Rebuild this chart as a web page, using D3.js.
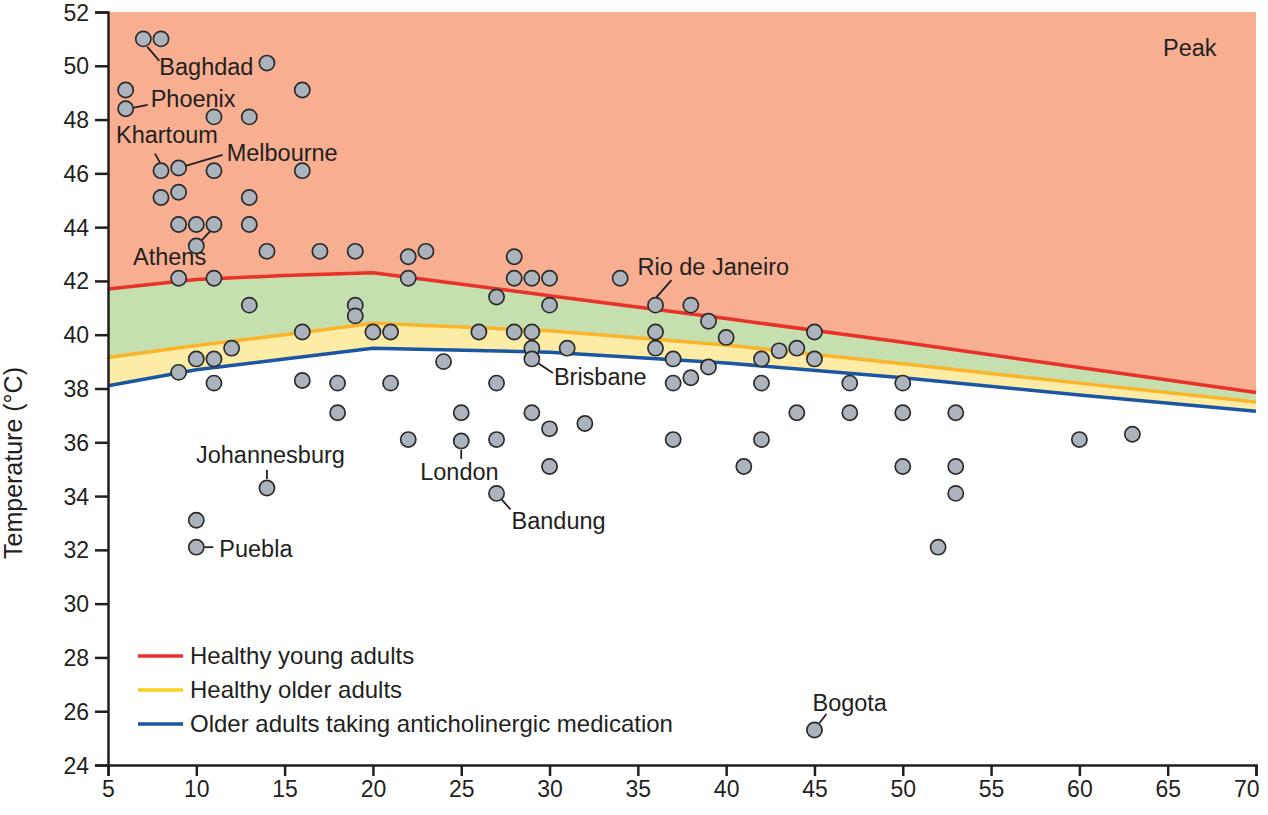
<!DOCTYPE html>
<html><head><meta charset="utf-8">
<script src="https://cdn.jsdelivr.net/npm/d3@7/dist/d3.min.js"></script>
<style>
html,body{margin:0;padding:0;background:#fff;}
svg text{font-family:"Liberation Sans",Arial,sans-serif;fill:#231f20;}
</style></head>
<body><svg id="chart" width="1268" height="815"></svg>
<script>
// ---- data ----
const xTicks = [5,10,15,20,25,30,35,40,45,50,55,60,65,70];
const yTicks = [24,26,28,30,32,34,36,38,40,42,44,46,48,50,52];
const curveX = [5,10,15,20,30,40,50,60,70];
const youngLimit = [41.7,42.05,42.2,42.3,41.45,40.6,39.72,38.78,37.85];
const olderLimit = [39.15,39.6,40.0,40.43,40.15,39.62,38.92,38.2,37.5];
const anticholLimit = [38.1,38.7,39.1,39.5,39.35,38.95,38.4,37.76,37.15];
const cityX = [7,8,14,6,6,16,11,13,8,9,11,16,8,9,13,9,10,11,13,10,14,17,19,22,23,9,11,22,28,28,29,30,34,13,19,19,27,30,36,38,39,40,45,16,20,21,26,28,29,36,12,29,31,36,43,44,10,11,29,37,42,45,24,39,9,16,11,18,21,27,37,38,42,47,50,18,25,29,44,47,50,53,32,30,22,25,27,37,42,60,63,30,41,50,53,14,27,53,10,10,52,45];
const cityY = [51,51,50.1,49.1,48.4,49.1,48.1,48.1,46.1,46.2,46.1,46.1,45.1,45.3,45.1,44.1,44.1,44.1,44.1,43.3,43.1,43.1,43.1,42.9,43.1,42.1,42.1,42.1,42.9,42.1,42.1,42.1,42.1,41.1,41.1,40.7,41.4,41.1,41.1,41.1,40.5,39.9,40.1,40.1,40.1,40.1,40.1,40.1,40.1,40.1,39.5,39.5,39.5,39.5,39.4,39.5,39.1,39.1,39.1,39.1,39.1,39.1,39.0,38.8,38.6,38.3,38.2,38.2,38.2,38.2,38.2,38.4,38.2,38.2,38.2,37.1,37.1,37.1,37.1,37.1,37.1,37.1,36.7,36.5,36.1,36.05,36.1,36.1,36.1,36.1,36.3,35.1,35.1,35.1,35.1,34.3,34.1,34.1,33.1,32.1,32.1,25.3];
const cityNames = ["Baghdad","Phoenix","Khartoum","Melbourne","Athens","Rio de Janeiro","Brisbane","Johannesburg","London","Bandung","Puebla","Bogota"];
const cityNameIdx = [0,4,8,9,17,38,58,95,85,96,99,101];
const legendLabels = ["Healthy young adults","Healthy older adults","Older adults taking anticholinergic medication"];
const legendColors = ["#e8312a","#f9d21c","#1a56a3"];

// ---- layout ----
const svg = d3.select("#chart");
const m = {l:108, r:1256, t:12, b:765};
const x = d3.scaleLinear().domain([5,70]).range([m.l,m.r]);
const y = d3.scaleLinear().domain([24,52]).range([m.b,m.t]);
const g = svg.append("g");
const FS = 23.5;

const pts = (arr) => curveX.map((cx,i)=>[cx,arr[i]]);
g.append("path").attr("fill","#f7ae91")
  .attr("d", d3.area().x(d=>x(d[0])).y0(y(52)).y1(d=>y(d[1]))(pts(youngLimit)));
const band = (top,bot,fill)=>{
  const data = curveX.map((cx,i)=>({x:cx,t:top[i],b:bot[i]}));
  g.append("path").attr("fill",fill)
    .attr("d", d3.area().x(d=>x(d.x)).y0(d=>y(d.b)).y1(d=>y(d.t))(data));
};
band(youngLimit, olderLimit, "#c5dfaf");
band(olderLimit, anticholLimit, "#fdeca6");

const line = d3.line().x(d=>x(d[0])).y(d=>y(d[1]));
g.append("path").attr("d",line(pts(anticholLimit))).attr("fill","none").attr("stroke","#1a56a3").attr("stroke-width",3.5);
g.append("path").attr("d",line(pts(olderLimit))).attr("fill","none").attr("stroke","#fbb42a").attr("stroke-width",3.5);
g.append("path").attr("d",line(pts(youngLimit))).attr("fill","none").attr("stroke","#e8312a").attr("stroke-width",3.5);

// Axes
const yAxis = g.append("g").attr("transform",`translate(${m.l},0)`)
  .call(d3.axisLeft(y).tickValues(yTicks).tickSize(13).tickPadding(6));
const xAxis = g.append("g").attr("transform",`translate(0,${m.b})`)
  .call(d3.axisBottom(x).tickValues(xTicks).tickSize(11).tickPadding(5));
[yAxis,xAxis].forEach(a=>{
  a.select(".domain").attr("stroke","#231f20").attr("stroke-width",2.5);
  a.selectAll(".tick line").attr("stroke","#231f20").attr("stroke-width",2.5);
  a.selectAll(".tick text").attr("font-size",23).style("font-family","Liberation Sans, Arial, sans-serif").attr("fill","#231f20");
});
yAxis.selectAll(".tick text").attr("dy","0.35em");
xAxis.selectAll(".tick text").filter(d=>d===70).attr("text-anchor","end").attr("dx",3);

g.append("text").attr("transform",`translate(22,463) rotate(-90)`)
  .attr("text-anchor","middle").attr("font-size",25).text("Temperature (°C)");

g.append("text").attr("x",1163).attr("y",56).attr("font-size",FS).text("Peak");

const annot = [
  {n:"Baghdad", l:[4,8,16,22], t:[16,36]},
  {n:"Phoenix", l:[7,-1,22,-4], t:[25,-2]},
  {n:"Khartoum", l:[-1,-8,-6,-17], t:[-45,-28]},
  {n:"Melbourne", l:[7,-2,44,-13], t:[48,-7]},
  {n:"Athens", l:[-3,6,-19,23], t:[-81,41]},
  {n:"Rio de Janeiro", l:[1,-8,16,-25], t:[-18,-30]},
  {n:"Brisbane", l:[6,4,21,14], t:[22,26]},
  {n:"Johannesburg", l:[0,-9,0,-18], t:[-71,-25]},
  {n:"London", l:[0,9,0,18], t:[-41,39]},
  {n:"Bandung", l:[5,6,14,16], t:[15,36]},
  {n:"Puebla", l:[8,0,17,0], t:[23,10]},
  {n:"Bogota", l:[5,-7,12,-16], t:[-2,-19]}
];

annot.forEach(a=>{
  const idx = cityNameIdx[cityNames.indexOf(a.n)];
  const px = x(cityX[idx]), py = y(cityY[idx]);
  g.append("line").attr("x1",px+a.l[0]).attr("y1",py+a.l[1]).attr("x2",px+a.l[2]).attr("y2",py+a.l[3])
    .attr("stroke","#231f20").attr("stroke-width",1.8);
  g.append("text").attr("x",px+a.t[0]).attr("y",py+a.t[1]).attr("font-size",FS).text(a.n);
});

g.append("g").selectAll("circle").data(cityX.map((cx,i)=>[cx,cityY[i]])).join("circle")
  .attr("cx",d=>x(d[0])).attr("cy",d=>y(d[1])).attr("r",7.6)
  .attr("fill","#abb4bc").attr("stroke","#2b2b2b").attr("stroke-width",1.7);

const lg = g.append("g");
legendLabels.forEach((lab,i)=>{
  const ly = 656 + i*34;
  lg.append("line").attr("x1",138).attr("x2",183).attr("y1",ly).attr("y2",ly)
    .attr("stroke",legendColors[i]).attr("stroke-width",3.5);
  lg.append("text").attr("x",190).attr("y",ly+8).attr("font-size",24).text(lab);
});
</script></body></html>
